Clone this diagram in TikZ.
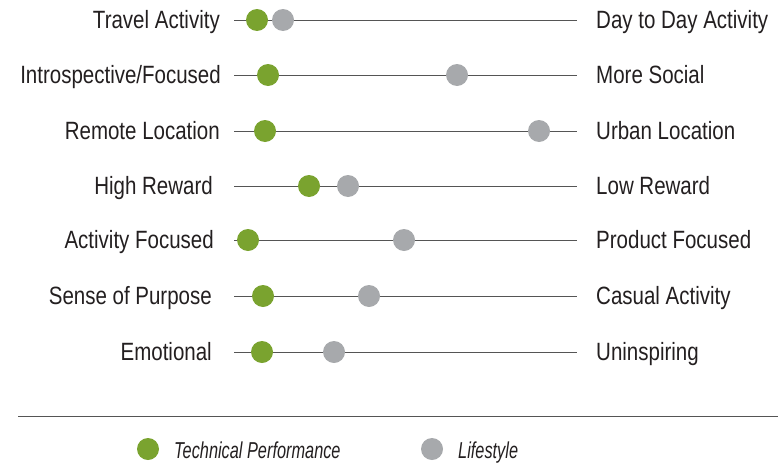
\documentclass[tikz,border=0pt]{standalone}
\usepackage{fontspec}
\setmainfont{Liberation Sans}[FakeStretch=0.82]
\newfontfamily\legendfont{Liberation Sans}[FakeStretch=0.71]
\usepackage{tikz}
\definecolor{techgreen}{RGB}{122,163,47}
\definecolor{lifegray}{RGB}{167,169,172}
\definecolor{axisgray}{RGB}{85,85,85}
\definecolor{inkgray}{RGB}{35,31,32}
\def\leftx{234}
\def\rightx{577}
\tikzset{
    label/.style={text=inkgray,font=\fontsize{25}{28}\selectfont,inner sep=0pt},
    legendtext/.style={text=inkgray,font=\legendfont\fontsize{23}{26}\selectfont\itshape,inner sep=0pt,anchor=base west},
    dot/.style={circle,inner sep=0pt,minimum size=22pt},
}

\begin{document}
\begin{tikzpicture}[x=1pt,y=-1pt]
    \useasboundingbox (0,0) rectangle (778,463);
    % one row per scale: y / label end / left / right / green x / gray x
    \foreach \i/\y/\lx/\lefttext/\righttext/\gx/\sx in {
        1/20/220/Travel Activity/Day to Day Activity/257/283,
        2/75/221/Introspective\slash Focused/More Social/268/457,
        3/131/220/Remote Location/Urban Location/265/539,
        4/186/213/High Reward/Low Reward/309/348,
        5/240/214/Activity Focused/Product Focused/248/404,
        6/296/212/Sense of Purpose/Casual Activity/263/369,
        7/352/212/Emotional/Uninspiring/262/334} {
        \coordinate (start\i) at (\leftx,\y);
        \coordinate (end\i) at (\rightx,\y);
        \draw[axisgray,line width=1pt] (start\i) -- (end\i);
        \node[label,anchor=base east] (left\i) at (\lx,\y+8.5) {\lefttext};
        \node[label,anchor=base west] (right\i) at (596,\y+8.5) {\righttext};
        \node[dot,fill=lifegray] (life\i) at (\sx,\y) {};
        \node[dot,fill=techgreen] (tech\i) at (\gx,\y) {};
    }
    % legend
    \coordinate (sepstart) at (18,416);
    \coordinate (sepend) at (778,416);
    \draw[axisgray,line width=1pt] (sepstart) -- (sepend);
    \node[dot,fill=techgreen] (techkey) at (148,449) {};
    \node[legendtext] (techlabel) at (174,458) {Technical Performance};
    \node[dot,fill=lifegray] (lifekey) at (432,449) {};
    \node[legendtext] (lifelabel) at (458,458) {Lifestyle};
\end{tikzpicture}
\end{document}
